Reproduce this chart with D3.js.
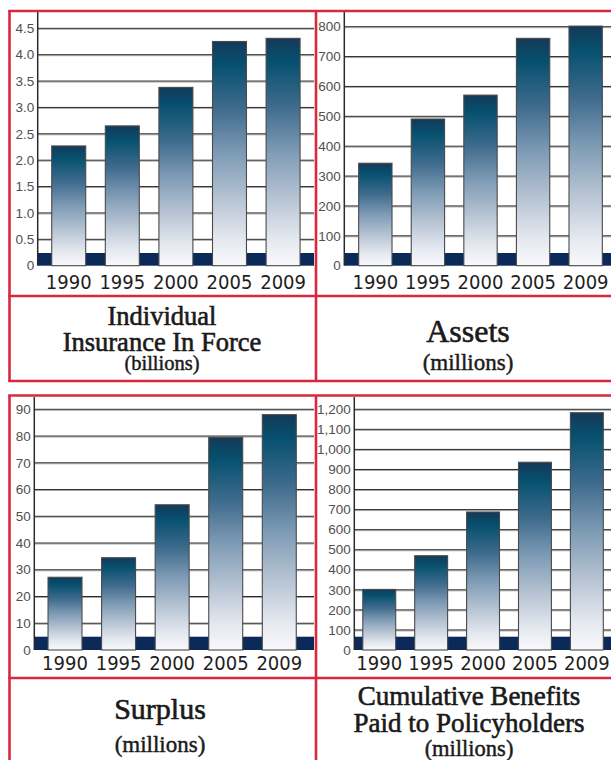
<!DOCTYPE html>
<html>
<head>
<meta charset="utf-8">
<script src="https://cdn.jsdelivr.net/npm/d3@7"></script>
<style>
  body { margin: 0; background: #fff; }
  svg { display: block; }
</style>
</head>
<body>
<div id="vis"></div>
<script>
// Data
const years = ["1990", "1995", "2000", "2005", "2009"];

const insuranceInForce = [2.27, 2.65, 3.38, 4.25, 4.31];   // billions
const assets           = [343, 491, 571, 761, 802];         // millions
const surplus          = [27.2, 34.5, 54.3, 79.5, 88];      // millions
const benefitsPaid     = [302, 470, 688, 936, 1183];        // millions

const insuranceTicks = [0, 0.5, 1, 1.5, 2, 2.5, 3, 3.5, 4, 4.5];
const assetsTicks    = [0, 100, 200, 300, 400, 500, 600, 700, 800];
const surplusTicks   = [0, 10, 20, 30, 40, 50, 60, 70, 80, 90];
const benefitsTicks  = [0, 100, 200, 300, 400, 500, 600, 700, 800, 900, 1000, 1100, 1200];

const titleLines = [
    ["Individual", "Insurance In Force"],
    ["Assets"],
    ["Surplus"],
    ["Cumulative Benefits", "Paid to Policyholders"]
];
const unitLabels = ["(billions)", "(millions)", "(millions)", "(millions)"];

const RED = "#d7283e";
const NAVY = "#0b2a5a";

const svg = d3.select("#vis").append("svg")
    .attr("width", 611)
    .attr("height", 760);

// bar gradient, dark at the top fading to white
const defs = svg.append("defs");
const grad = defs.append("linearGradient")
    .attr("id", "barGrad")
    .attr("x1", 0).attr("y1", 0).attr("x2", 0).attr("y2", 1);
[
    [0, "#143a58"], [0.1, "#06506f"], [0.3, "#3f6b8d"], [0.5, "#7e9bb5"],
    [0.7, "#b6c3d3"], [0.88, "#e4e8ef"], [1, "#f8f9fb"]
].forEach(s => grad.append("stop").attr("offset", s[0]).attr("stop-color", s[1]));

// panel layout
const panels = [
    {
        values: insuranceInForce, ticks: insuranceTicks, fmt: d => d === 0 ? "0" : d3.format(".1f")(d),
        axisX: 37.7, right: 314, xRange: [37.8, 314],
        y0: 265.7, yTop: 28.3, axisTop: 12, band: 12.7, labelDy: 23,
        cx: 162, titleY: [325, 350.7], titleSize: 26.5, unitY: 369.5, unitSize: 20.5
    },
    {
        values: assets, ticks: assetsTicks, fmt: d3.format(","),
        axisX: 344.3, right: 611, xRange: [345, 616],
        y0: 265.7, yTop: 26.7, axisTop: 12, band: 12.7, labelDy: 23,
        cx: 468, titleY: [341.7], titleSize: 32, unitY: 370, unitSize: 23
    },
    {
        values: surplus, ticks: surplusTicks, fmt: d3.format(","),
        axisX: 34.3, right: 314, xRange: [34.1, 310.2],
        y0: 650, yTop: 409.3, axisTop: 397, band: 13.3, labelDy: 20,
        cx: 160, titleY: [718.7], titleSize: 30, unitY: 752, unitSize: 23
    },
    {
        values: benefitsPaid, ticks: benefitsTicks, fmt: d3.format(","),
        axisX: 354.3, right: 611, xRange: [349.3, 616.8],
        y0: 650, yTop: 409.3, axisTop: 397, band: 13.3, labelDy: 20,
        cx: 469, titleY: [705.3, 732.3], titleSize: 27, unitY: 755.5, unitSize: 22.5
    }
];

panels.forEach((p, i) => {
    const g = svg.append("g");
    const maxTick = p.ticks[p.ticks.length - 1];

    const y = d3.scaleLinear()
        .domain([0, maxTick])
        .range([p.y0, p.yTop]);

    const x = d3.scaleBand()
        .domain(years)
        .range(p.xRange)
        .paddingInner(0.366)
        .paddingOuter(0.26);

    // gridlines (dark line with a grey shadow under it)
    const grid = g.append("g");
    p.ticks.filter(t => t > 0).forEach(t => {
        grid.append("line")
            .attr("x1", p.axisX).attr("x2", p.right)
            .attr("y1", y(t) + 1).attr("y2", y(t) + 1)
            .attr("stroke", "#a8a8a8").attr("stroke-width", 1);
        grid.append("line")
            .attr("x1", p.axisX).attr("x2", p.right)
            .attr("y1", y(t)).attr("y2", y(t))
            .attr("stroke", "#2a2a2a").attr("stroke-width", 1);
    });

    // navy base band
    g.append("rect")
        .attr("x", p.axisX)
        .attr("y", p.y0 - p.band)
        .attr("width", p.right - p.axisX)
        .attr("height", p.band)
        .attr("fill", NAVY);

    // bars
    g.selectAll("rect.bar")
        .data(p.values)
        .enter()
        .append("rect")
        .attr("class", "bar")
        .attr("x", (d, j) => x(years[j]))
        .attr("y", d => y(d))
        .attr("width", x.bandwidth())
        .attr("height", d => p.y0 - y(d))
        .attr("fill", "url(#barGrad)")
        .attr("stroke", "#4a4a4a")
        .attr("stroke-width", 1.1);

    // y axis line
    g.append("line")
        .attr("x1", p.axisX).attr("x2", p.axisX)
        .attr("y1", p.axisTop).attr("y2", p.y0)
        .attr("stroke", "#2a2a2a")
        .attr("stroke-width", 1.5);

    // y tick labels
    g.selectAll("text.ytick")
        .data(p.ticks)
        .enter()
        .append("text")
        .attr("class", "ytick")
        .attr("x", p.axisX - 3.5)
        .attr("y", d => y(d))
        .attr("dy", "0.35em")
        .attr("text-anchor", "end")
        .attr("font-family", "'Liberation Sans', Arial, sans-serif")
        .attr("font-size", 13.5)
        .attr("fill", "#505050")
        .text(p.fmt);

    // year labels
    g.selectAll("text.year")
        .data(years)
        .enter()
        .append("text")
        .attr("class", "year")
        .attr("x", d => x(d) + x.bandwidth() / 2)
        .attr("y", p.y0 + p.labelDy)
        .attr("text-anchor", "middle")
        .attr("font-family", "'Liberation Sans Narrow', 'DejaVu Sans Condensed', sans-serif")
        .attr("font-size", 20)
        .attr("fill", "#1e1e1e")
        .text(d => d);

    // titles
    titleLines[i].forEach((line, k) => {
        g.append("text")
            .attr("x", p.cx)
            .attr("y", p.titleY[k])
            .attr("text-anchor", "middle")
            .attr("font-family", "'Liberation Serif', 'DejaVu Serif', serif")
            .attr("font-size", p.titleSize)
            .attr("fill", "#1a1a1a")
            .attr("stroke", "#1a1a1a")
            .attr("stroke-width", 0.6)
            .text(line);
    });
    g.append("text")
        .attr("x", p.cx)
        .attr("y", p.unitY)
        .attr("text-anchor", "middle")
        .attr("font-family", "'Liberation Serif', 'DejaVu Serif', serif")
        .attr("font-size", p.unitSize)
        .attr("fill", "#1a1a1a")
        .attr("stroke", "#1a1a1a")
        .attr("stroke-width", 0.45)
        .text(unitLabels[i]);
});

// red frame lines
const frame = svg.append("g")
    .attr("stroke", RED)
    .attr("stroke-width", 2.6)
    .attr("fill", "none");

// top row
frame.append("line").attr("x1", 8.2).attr("x2", 611).attr("y1", 11).attr("y2", 11);
frame.append("line").attr("x1", 8.2).attr("x2", 611).attr("y1", 296).attr("y2", 296);
frame.append("line").attr("x1", 8.2).attr("x2", 611).attr("y1", 381).attr("y2", 381);
frame.append("line").attr("x1", 9.5).attr("x2", 9.5).attr("y1", 11).attr("y2", 381);
frame.append("line").attr("x1", 316).attr("x2", 316).attr("y1", 11).attr("y2", 381);

// bottom row
frame.append("line").attr("x1", 8.2).attr("x2", 611).attr("y1", 395.5).attr("y2", 395.5);
frame.append("line").attr("x1", 8.2).attr("x2", 611).attr("y1", 678).attr("y2", 678);
frame.append("line").attr("x1", 9.5).attr("x2", 9.5).attr("y1", 395.5).attr("y2", 760);
frame.append("line").attr("x1", 316).attr("x2", 316).attr("y1", 395.5).attr("y2", 760);
</script>
</body>
</html>
